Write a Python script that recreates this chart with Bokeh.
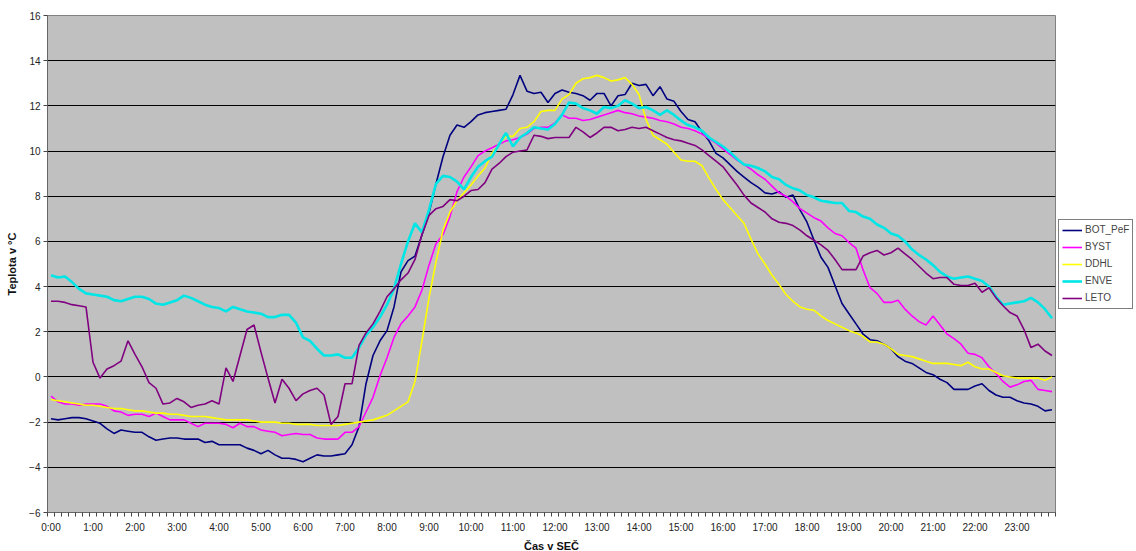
from bokeh.plotting import figure
from bokeh.models import FixedTicker, Legend, LegendItem, Range1d
from bokeh.embed import file_html
from bokeh.resources import INLINE

# time of day in minutes, 10-minute steps (x categories)
minutes = list(range(0, 1440, 10))
tick_labels = ["0:00", "1:00", "2:00", "3:00", "4:00", "5:00", "6:00", "7:00",
               "8:00", "9:00", "10:00", "11:00", "12:00", "13:00", "14:00", "15:00",
               "16:00", "17:00", "18:00", "19:00", "20:00", "21:00", "22:00", "23:00"]

bot_pef = [-1.85, -1.9, -1.85, -1.8, -1.8, -1.85, -1.95, -2.05, -2.3, -2.5,
           -2.35, -2.4, -2.45, -2.45, -2.65, -2.8, -2.75, -2.7, -2.7, -2.75,
           -2.75, -2.75, -2.9, -2.85, -3.0, -3.0, -3.0, -3.0, -3.15, -3.25,
           -3.4, -3.25, -3.45, -3.6, -3.6, -3.65, -3.75, -3.6, -3.45, -3.5,
           -3.5, -3.45, -3.4, -3.0, -2.2, -0.3, 0.95, 1.6, 2.05, 3.1,
           4.65, 5.15, 5.35, 6.3, 7.25, 8.55, 9.75, 10.7, 11.15, 11.05,
           11.3, 11.6, 11.7, 11.75, 11.8, 11.85, 12.5, 13.35, 12.65, 12.55,
           12.6, 12.15, 12.55, 12.7, 12.6, 12.55, 12.45, 12.25, 12.55, 12.55,
           12.0, 12.45, 12.5, 13.0, 12.9, 12.95, 12.45, 12.85, 12.3, 12.2,
           11.75, 11.4, 11.3, 10.85, 10.45, 9.9, 9.7, 9.4, 9.1, 8.85,
           8.6, 8.4, 8.15, 8.1, 8.2, 7.95, 8.05, 7.4, 6.85, 6.05,
           5.3, 4.85, 4.05, 3.25, 2.8, 2.35, 1.9, 1.65, 1.6, 1.45,
           1.25, 0.9, 0.7, 0.6, 0.4, 0.2, 0.1, -0.1, -0.25, -0.55,
           -0.55, -0.55, -0.4, -0.3, -0.6, -0.8, -0.9, -0.9, -1.05, -1.15,
           -1.2, -1.3, -1.5, -1.45]

byst = [-0.85, -1.1, -1.2, -1.2, -1.25, -1.2, -1.2, -1.2, -1.3, -1.5,
        -1.55, -1.7, -1.65, -1.65, -1.75, -1.6, -1.75, -1.9, -1.9, -1.9,
        -2.05, -2.2, -2.05, -2.05, -2.05, -2.1, -2.25, -2.05, -2.2, -2.2,
        -2.35, -2.4, -2.45, -2.6, -2.55, -2.5, -2.55, -2.55, -2.7, -2.75,
        -2.75, -2.75, -2.45, -2.45, -2.2, -1.55, -0.9, 0.05, 0.85, 1.75,
        2.35, 2.7, 3.1, 3.85, 4.95, 5.9, 6.3, 7.1, 8.2, 8.85,
        9.3, 9.8, 10.0, 10.15, 10.3, 10.45, 10.5, 10.6, 10.75, 11.0,
        11.05, 11.05, 11.25, 11.6, 11.45, 11.45, 11.35, 11.4, 11.5, 11.6,
        11.7, 11.8, 11.7, 11.65, 11.55, 11.5, 11.45, 11.35, 11.3, 11.2,
        11.05, 11.0, 10.9, 10.75, 10.55, 10.35, 10.1, 9.85, 9.6, 9.4,
        9.2, 8.95, 8.75, 8.45, 8.15, 8.0, 7.75, 7.45, 7.25, 7.05,
        6.9, 6.6, 6.35, 6.25, 5.95, 5.7, 4.75, 3.95, 3.7, 3.3,
        3.3, 3.4, 3.0, 2.7, 2.45, 2.3, 2.7, 2.3, 1.9, 1.7,
        1.45, 1.05, 1.0, 0.85, 0.45, 0.15, -0.2, -0.45, -0.35, -0.2,
        -0.15, -0.55, -0.6, -0.65]

ddhl = [-1.0, -1.05, -1.1, -1.15, -1.2, -1.25, -1.25, -1.3, -1.35, -1.4,
        -1.4, -1.45, -1.5, -1.5, -1.55, -1.6, -1.6, -1.65, -1.65, -1.7,
        -1.75, -1.75, -1.75, -1.8, -1.85, -1.9, -1.9, -1.9, -1.9, -1.95,
        -2.0, -2.0, -2.0, -2.05, -2.05, -2.1, -2.1, -2.1, -2.15, -2.15,
        -2.15, -2.15, -2.1, -2.05, -2.0, -1.95, -1.9, -1.8, -1.7, -1.5,
        -1.3, -1.1, -0.2, 1.6, 3.5, 5.1, 6.5, 7.3, 7.8, 8.15,
        8.5, 8.9, 9.25, 9.9, 10.3, 10.65, 10.65, 11.0, 11.05, 11.3,
        11.75, 11.8, 11.8, 12.3, 12.5, 13.0, 13.2, 13.25, 13.35, 13.25,
        13.1, 13.15, 13.25, 12.95, 12.5, 11.4, 10.7, 10.5, 10.3, 9.95,
        9.6, 9.55, 9.55, 9.35, 8.8, 8.3, 7.85, 7.5, 7.15, 6.8,
        6.1, 5.45, 5.0, 4.5, 4.1, 3.65, 3.35, 3.1, 3.0, 2.95,
        2.7, 2.5, 2.35, 2.2, 2.05, 1.95, 1.8, 1.55, 1.55, 1.45,
        1.25, 1.0, 0.95, 0.9, 0.8, 0.7, 0.6, 0.6, 0.6, 0.55,
        0.5, 0.65, 0.45, 0.35, 0.35, 0.2, 0.05, 0.0, -0.05, -0.05,
        -0.05, -0.05, -0.15, 0.0]

enve = [4.5, 4.4, 4.45, 4.2, 3.9, 3.7, 3.65, 3.6, 3.55, 3.4,
        3.35, 3.45, 3.55, 3.55, 3.45, 3.25, 3.2, 3.3, 3.4, 3.6,
        3.5, 3.35, 3.2, 3.1, 3.05, 2.9, 3.1, 3.0, 2.9, 2.85,
        2.8, 2.65, 2.65, 2.75, 2.75, 2.4, 1.75, 1.6, 1.25, 0.95,
        0.95, 1.0, 0.85, 0.85, 1.3, 1.85, 2.2, 2.65, 3.2, 3.9,
        5.0, 6.0, 6.8, 6.4, 7.4, 8.55, 8.9, 8.85, 8.65, 8.3,
        8.85, 9.3, 9.55, 9.75, 10.3, 10.8, 10.2, 10.6, 10.8, 11.05,
        11.0, 10.95, 11.2, 11.6, 12.15, 12.1, 11.9, 11.8, 11.65, 11.95,
        11.9, 12.0, 12.25, 12.1, 11.9, 11.95, 11.8, 11.6, 11.8, 11.6,
        11.35, 11.15, 11.05, 10.9, 10.6, 10.4, 10.2, 9.95, 9.65, 9.4,
        9.35, 9.25, 9.1, 8.85, 8.75, 8.5, 8.35, 8.25, 8.05, 7.95,
        7.8, 7.75, 7.7, 7.7, 7.35, 7.3, 7.1, 7.0, 6.75, 6.6,
        6.35, 6.25, 6.0, 5.65, 5.4, 5.2, 4.95, 4.65, 4.45, 4.35,
        4.4, 4.45, 4.35, 4.25, 4.0, 3.55, 3.2, 3.25, 3.3, 3.35,
        3.5, 3.3, 3.0, 2.6]

leto = [3.35, 3.35, 3.3, 3.2, 3.15, 3.1, 0.65, -0.05, 0.35, 0.5,
        0.7, 1.6, 1.0, 0.45, -0.25, -0.5, -1.2, -1.15, -0.95, -1.1,
        -1.35, -1.25, -1.2, -1.05, -1.2, 0.4, -0.2, 0.95, 2.1, 2.3,
        1.1, -0.05, -1.15, -0.1, -0.5, -1.05, -0.75, -0.6, -0.5, -0.8,
        -2.1, -1.75, -0.3, -0.3, 1.4, 1.95, 2.35, 2.9, 3.55, 3.9,
        4.3, 4.6, 5.2, 6.3, 7.15, 7.45, 7.55, 7.85, 7.8, 8.0,
        8.25, 8.3, 8.6, 9.2, 9.45, 9.75, 9.95, 10.0, 10.05, 10.7,
        10.65, 10.55, 10.6, 10.6, 10.6, 11.05, 10.85, 10.6, 10.8, 11.05,
        11.05, 10.9, 10.95, 11.05, 11.0, 11.05, 10.9, 10.75, 10.6, 10.5,
        10.45, 10.35, 10.25, 10.05, 9.8, 9.55, 9.3, 8.9, 8.5, 8.05,
        7.7, 7.5, 7.3, 7.0, 6.85, 6.8, 6.7, 6.5, 6.25, 6.05,
        5.85, 5.6, 5.2, 4.75, 4.75, 4.75, 5.35, 5.5, 5.6, 5.4,
        5.5, 5.7, 5.45, 5.2, 4.9, 4.6, 4.35, 4.4, 4.4, 4.1,
        4.05, 4.05, 4.15, 3.75, 3.95, 3.5, 3.15, 2.85, 2.7, 2.1,
        1.3, 1.45, 1.15, 0.95]

series = [("BOT_PeF", bot_pef, "#000080", 1.6),
          ("BYST", byst, "#FF00FF", 1.6),
          ("DDHL", ddhl, "#FFFF00", 1.6),
          ("ENVE", enve, "#00E5E5", 2.6),
          ("LETO", leto, "#800080", 1.6)]

FONT = "Liberation Sans"

# fixed frame size; the legend panel on the right adds its own width
p = figure(frame_width=1008, frame_height=497, output_backend="svg", toolbar_location=None,
           x_range=Range1d(-5, 1435), y_range=Range1d(-6, 16),
           min_border_left=47, min_border_right=0, min_border_top=15, min_border_bottom=38,
           background_fill_color="#C0C0C0", border_fill_color="white",
           outline_line_color="#808080")

items = []
for name, vals, color, lw in series:
    r = p.line(minutes, vals, line_color=color, line_width=lw)
    items.append(LegendItem(label=name, renderers=[r]))

# axes
hour_ticks = [h * 60 for h in range(24)]
p.xaxis.ticker = FixedTicker(ticks=hour_ticks, minor_ticks=[m - 5 for m in minutes] + [1435])
p.xaxis.major_label_overrides = {t: lab for t, lab in zip(hour_ticks, tick_labels)}
p.xaxis.major_tick_out = 0
p.xaxis.major_tick_in = 0
p.xaxis.minor_tick_out = 4
p.xaxis.minor_tick_in = 0
p.xaxis.minor_tick_line_color = "#444444"
p.xaxis.major_label_standoff = 5
p.xaxis.axis_label = "Čas v SEČ"
p.xaxis.axis_label_standoff = 4

p.yaxis.ticker = FixedTicker(ticks=list(range(-6, 17, 2)), minor_ticks=[])
p.yaxis.major_tick_out = 4
p.yaxis.major_tick_in = 0
p.yaxis.major_tick_line_color = "#444444"
p.yaxis.major_label_standoff = 3
p.yaxis.axis_label = "Teplota v °C"
p.yaxis.axis_label_standoff = 8

for ax in (p.xaxis, p.yaxis):
    ax.axis_line_color = "#666666"
    ax.major_label_text_font = FONT
    ax.major_label_text_font_size = "10px"
    ax.major_label_text_color = "#222222"
    ax.axis_label_text_font = FONT
    ax.axis_label_text_font_size = "11px"
    ax.axis_label_text_font_style = "bold"
    ax.axis_label_text_color = "#111111"

p.xgrid.visible = False
p.ygrid.ticker = FixedTicker(ticks=list(range(-4, 15, 2)))
p.ygrid.grid_line_color = "#000000"
p.ygrid.grid_line_width = 1

legend = Legend(items=items, location="left",
                border_line_color="black", border_line_width=1,
                background_fill_color="white", background_fill_alpha=1.0,
                label_text_font=FONT, label_text_font_size="10px",
                glyph_width=20, glyph_height=14, label_height=14,
                label_standoff=3, spacing=3, padding=3, margin=3)
p.add_layout(legend, "right")

open("out.html", "w").write(file_html(p, INLINE))
